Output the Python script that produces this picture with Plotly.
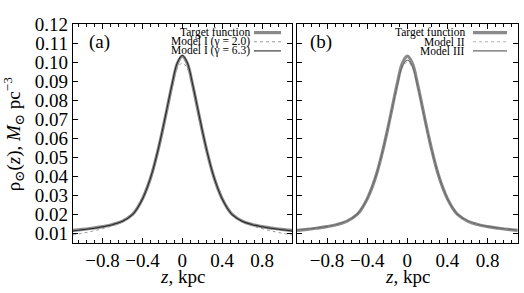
import plotly.graph_objects as go

# ---- data ----
z = [-1.1, -1.0, -0.9, -0.8, -0.7, -0.6, -0.5, -0.45, -0.4, -0.35, -0.3, -0.25, -0.2, -0.15, -0.1, -0.05,
     0.0, 0.05, 0.1, 0.15, 0.2, 0.25, 0.3, 0.35, 0.4, 0.45, 0.5, 0.6, 0.7, 0.8, 0.9, 1.0, 1.1]

target = [0.0116, 0.0121, 0.0128, 0.0136, 0.0147, 0.0165, 0.0200, 0.0235, 0.0282, 0.0345, 0.0425, 0.0525,
          0.0640, 0.0765, 0.0890, 0.0995, 0.1033, 0.0995, 0.0890, 0.0765, 0.0640, 0.0525, 0.0425, 0.0345,
          0.0282, 0.0235, 0.0200, 0.0165, 0.0147, 0.0136, 0.0128, 0.0121, 0.0116]

model1_g20 = [0.0092, 0.0101, 0.0112, 0.0125, 0.0140, 0.0160, 0.0197, 0.0233, 0.0281, 0.0344, 0.0424, 0.0524,
              0.0641, 0.0762, 0.0878, 0.0968, 0.0998, 0.0968, 0.0878, 0.0762, 0.0641, 0.0524, 0.0424, 0.0344,
              0.0281, 0.0233, 0.0197, 0.0160, 0.0140, 0.0125, 0.0112, 0.0101, 0.0092]

model1_g63 = [0.0113, 0.0119, 0.0126, 0.0135, 0.0146, 0.0164, 0.0199, 0.0234, 0.0281, 0.0345, 0.0425, 0.0526,
              0.0642, 0.0768, 0.0893, 0.0999, 0.1038, 0.0999, 0.0893, 0.0768, 0.0642, 0.0526, 0.0425, 0.0345,
              0.0281, 0.0234, 0.0199, 0.0164, 0.0146, 0.0135, 0.0126, 0.0119, 0.0113]

model2 = [0.0117, 0.0122, 0.0129, 0.0137, 0.0148, 0.0166, 0.0201, 0.0236, 0.0283, 0.0346, 0.0425, 0.0524,
          0.0637, 0.0758, 0.0876, 0.0970, 0.1003, 0.0970, 0.0876, 0.0758, 0.0637, 0.0524, 0.0425, 0.0346,
          0.0283, 0.0236, 0.0201, 0.0166, 0.0148, 0.0137, 0.0129, 0.0122, 0.0117]

model3 = [0.0118, 0.0123, 0.0129, 0.0137, 0.0148, 0.0166, 0.0201, 0.0236, 0.0283, 0.0346, 0.0426, 0.0525,
          0.0639, 0.0761, 0.0880, 0.0978, 0.1013, 0.0978, 0.0880, 0.0761, 0.0639, 0.0525, 0.0426, 0.0346,
          0.0283, 0.0236, 0.0201, 0.0166, 0.0148, 0.0137, 0.0129, 0.0123, 0.0118]

x_ticks = [-0.8, -0.4, 0.0, 0.4, 0.8]
y_ticks = [0.01, 0.02, 0.03, 0.04, 0.05, 0.06, 0.07, 0.08, 0.09, 0.10, 0.11, 0.12]
y_ticktext = ["0.01", "0.02", "0.03", "0.04", "0.05", "0.06", "0.07", "0.08", "0.09", "0.10", "0.11", "0.12"]
x_ticktext = ["\u22120.8", "\u22120.4", "0", "0.4", "0.8"]

legend_a = ["Target function", "Model I (\u03b3 = 2.0)", "Model I (\u03b3 = 6.3)"]
legend_b = ["Target function", "Model II", "Model III"]

# ---- styles ----
W, H = 524, 293
FONT = "Liberation Serif, DejaVu Serif, serif"
sty_target = dict(color="#8a8a8a", width=3.2)
sty_g20 = dict(color="#9a9a9a", width=1, dash="dot")
sty_g63 = dict(color="#2a2a2a", width=1.1)
sty_m2 = dict(color="#b0b0b0", width=1, dash="dot")
sty_m3 = dict(color="#6a6a6a", width=1.1)

fig = go.Figure()
fig.add_trace(go.Scatter(x=z, y=target, mode="lines", line=dict(shape="spline", **sty_target), xaxis="x", yaxis="y"))
fig.add_trace(go.Scatter(x=z, y=model1_g20, mode="lines", line=dict(shape="spline", **sty_g20), xaxis="x", yaxis="y"))
fig.add_trace(go.Scatter(x=z, y=model1_g63, mode="lines", line=dict(shape="spline", **sty_g63), xaxis="x", yaxis="y"))
fig.add_trace(go.Scatter(x=z, y=target, mode="lines", line=dict(shape="spline", **sty_target), xaxis="x2", yaxis="y2"))
fig.add_trace(go.Scatter(x=z, y=model2, mode="lines", line=dict(shape="spline", **sty_m2), xaxis="x2", yaxis="y2"))
fig.add_trace(go.Scatter(x=z, y=model3, mode="lines", line=dict(shape="spline", **sty_m3), xaxis="x2", yaxis="y2"))

def px_x(p):
    return p / W

def px_y(p):
    return 1 - p / H

xa_dom = [px_x(72.7), px_x(292)]
xb_dom = [px_x(297), px_x(517.7)]
y_dom = [px_y(242), px_y(15)]

common_x = dict(range=[-1.1, 1.1], tickmode="array", tickvals=x_ticks, ticktext=x_ticktext,
                ticks="inside", ticklen=5, tickwidth=1, tickcolor="black", showline=True, linecolor="black",
                linewidth=1, mirror="allticks", showgrid=False, zeroline=False,
                tickfont=dict(family=FONT, size=19, color="black"),
                minor=dict(dtick=0.08, tick0=0, ticks="inside", ticklen=2.5, tickcolor="black", showgrid=False))
common_y = dict(range=[0.005, 0.12], tickmode="array", tickvals=y_ticks, ticktext=y_ticktext,
                ticks="inside", ticklen=5, tickwidth=1, tickcolor="black", showline=True, linecolor="black",
                linewidth=1, mirror="allticks", showgrid=False, zeroline=False,
                tickfont=dict(family=FONT, size=19, color="black"))

fig.update_layout(
    width=W, height=H, margin=dict(l=0, r=0, t=0, b=0),
    paper_bgcolor="white", plot_bgcolor="white", showlegend=False,
    font=dict(family=FONT, color="black"),
    xaxis=dict(domain=xa_dom, anchor="y", **common_x),
    yaxis=dict(domain=y_dom, anchor="x", **common_y),
    xaxis2=dict(domain=xb_dom, anchor="y2", **common_x),
    yaxis2=dict(domain=y_dom, anchor="x2", showticklabels=False, **common_y),
)

ann = []
# axis titles
ann.append(dict(text="\u03c1<sub>\u2299</sub>(<i>z</i>), <i>M</i><sub>\u2299</sub> pc<sup>\u22123</sup>",
                x=px_x(13), y=px_y(129), xref="paper", yref="paper", showarrow=False, textangle=-90,
                font=dict(family=FONT, size=19), xanchor="center", yanchor="middle"))
for xc in (182.3, 407.3):
    ann.append(dict(text="<i>z</i>, kpc", x=px_x(xc), y=px_y(277), xref="paper", yref="paper",
                    showarrow=False, font=dict(family=FONT, size=19), xanchor="center", yanchor="middle"))
# panel labels
ann.append(dict(text="(a)", x=px_x(87), y=px_y(33), xref="paper", yref="paper", showarrow=False,
                font=dict(family=FONT, size=19), xanchor="left", yanchor="middle"))
ann.append(dict(text="(b)", x=px_x(308), y=px_y(33), xref="paper", yref="paper", showarrow=False,
                font=dict(family=FONT, size=19), xanchor="left", yanchor="middle"))

shapes = []
rows = [23.5, 33, 42.5]
for labels, styles, txt_r, s0, s1 in (
        (legend_a, (sty_target, sty_g20, sty_g63), 250.5, 254, 281),
        (legend_b, (sty_target, sty_m2, sty_m3), 466, 473, 507)):
    for lab, st, ry in zip(labels, styles, rows):
        ann.append(dict(text=lab, x=px_x(txt_r), y=px_y(ry), xref="paper", yref="paper", showarrow=False,
                        font=dict(family=FONT, size=11.5), xanchor="right", yanchor="middle", borderpad=0))
        shapes.append(dict(type="line", xref="paper", yref="paper", x0=px_x(s0), x1=px_x(s1),
                           y0=px_y(ry), y1=px_y(ry), line=st))

fig.update_layout(annotations=ann, shapes=shapes)
fig.write_html("out.html", config={"displayModeBar": False},
               post_script="document.body.style.margin='0';document.body.style.overflow='hidden';")
